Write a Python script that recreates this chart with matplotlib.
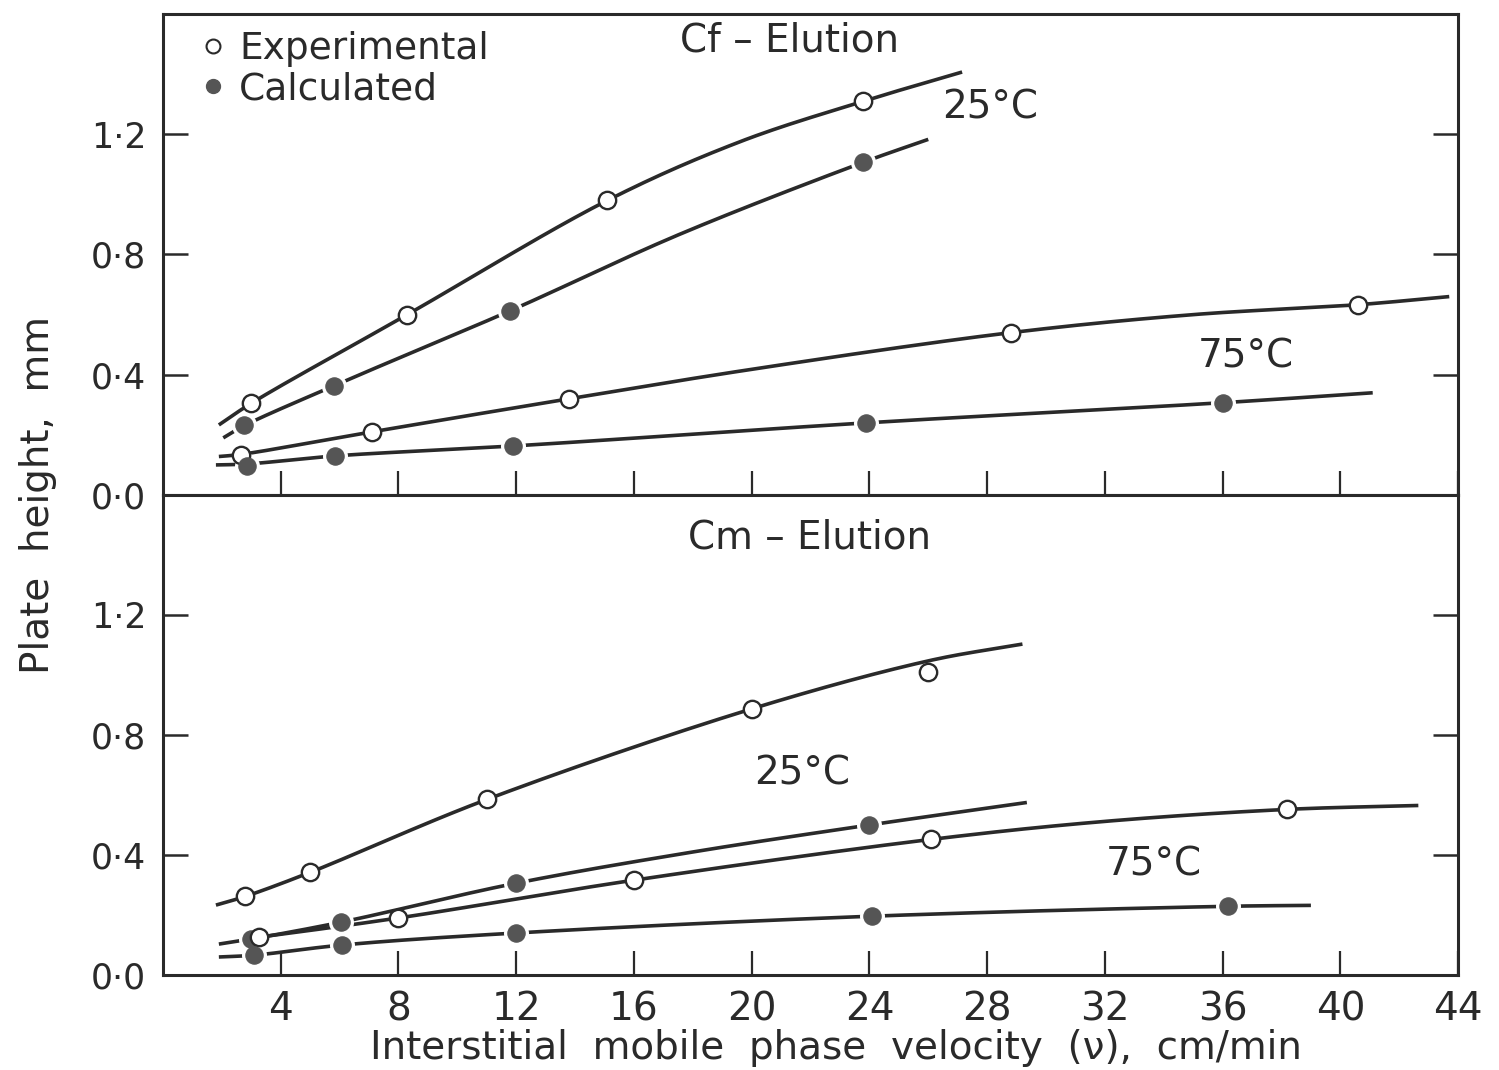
import numpy as np
import matplotlib
matplotlib.use("Agg")
import matplotlib.pyplot as plt
from matplotlib.lines import Line2D

plt.rcParams['font.family'] = ['DejaVu Sans']

# ---------------- Cf elution (upper panel) ----------------
# measured / calculated points
cf_exp25_x = [3.0, 8.3, 15.1, 23.8]
cf_exp25_y = [0.307, 0.60, 0.98, 1.31]
cf_calc25_x = [2.75, 5.8, 11.8, 23.8]
cf_calc25_y = [0.233, 0.363, 0.613, 1.107]
cf_exp75_x = [2.65, 7.1, 13.8, 28.8, 40.6]
cf_exp75_y = [0.133, 0.21, 0.32, 0.54, 0.633]
cf_calc75_x = [2.85, 5.85, 11.9, 23.9, 36.0]
cf_calc75_y = [0.097, 0.13, 0.163, 0.24, 0.307]

# hand-drawn trend curves (nodes along each curve)
cf_exp25_cx = [1.9, 3.0, 8.3, 15.1, 19.6, 23.8, 27.15]
cf_exp25_cy = [0.233, 0.305, 0.60, 0.98, 1.175, 1.31, 1.407]
cf_calc25_cx = [2.05, 2.75, 5.8, 11.8, 17.5, 23.8, 26.0]
cf_calc25_cy = [0.19, 0.23, 0.363, 0.613, 0.865, 1.107, 1.183]
cf_exp75_cx = [1.9, 2.65, 7.1, 13.8, 20.0, 28.8, 35.0, 40.6, 43.7]
cf_exp75_cy = [0.128, 0.135, 0.21, 0.32, 0.418, 0.54, 0.60, 0.633, 0.66]
cf_calc75_cx = [1.8, 2.85, 5.85, 11.9, 23.9, 36.0, 41.1]
cf_calc75_cy = [0.10, 0.103, 0.13, 0.163, 0.24, 0.307, 0.34]

# ---------------- Cm elution (lower panel) ----------------
cm_exp25_x = [2.8, 5.0, 11.0, 20.0, 26.0]
cm_exp25_y = [0.262, 0.342, 0.585, 0.887, 1.01]
cm_calc25_x = [3.0, 6.05, 12.0, 24.0]
cm_calc25_y = [0.12, 0.176, 0.306, 0.50]
cm_exp75_x = [3.25, 8.0, 16.0, 26.1, 38.2]
cm_exp75_y = [0.126, 0.19, 0.316, 0.452, 0.552]
cm_calc75_x = [3.1, 6.1, 12.0, 24.1, 36.2]
cm_calc75_y = [0.066, 0.10, 0.14, 0.196, 0.229]

cm_exp25_cx = [1.8, 2.8, 5.0, 11.0, 20.0, 26.0, 29.2]
cm_exp25_cy = [0.233, 0.262, 0.342, 0.585, 0.887, 1.047, 1.103]
cm_calc25_cx = [1.9, 3.0, 6.05, 12.0, 18.0, 24.0, 29.35]
cm_calc25_cy = [0.103, 0.12, 0.176, 0.306, 0.41, 0.50, 0.575]
cm_exp75_cx = [3.0, 3.25, 8.0, 16.0, 26.1, 32.0, 38.2, 42.65]
cm_exp75_cy = [0.123, 0.126, 0.19, 0.316, 0.452, 0.512, 0.552, 0.565]
cm_calc75_cx = [1.9, 3.1, 6.1, 12.0, 24.1, 36.2, 39.0]
cm_calc75_cy = [0.06, 0.066, 0.10, 0.14, 0.196, 0.229, 0.232]

x_ticks = [4, 8, 12, 16, 20, 24, 28, 32, 36, 40, 44]
y_ticks = [0.0, 0.4, 0.8, 1.2]
y_ticklabels = ['0·0', '0·4', '0·8', '1·2']

INK = '#2a2a2a'
DOT = '#555555'
FS = 27

fig = plt.figure(figsize=(14.99, 10.70), dpi=100)
ax_top = fig.add_axes([0.1087, 0.5374, 0.864, 0.4495])
ax_bot = fig.add_axes([0.1087, 0.0888, 0.864, 0.4486])


def smooth_stroke(xs, ys, n=24):
    """Centripetal Catmull-Rom stroke through the curve nodes (pen rendering)."""
    p = np.column_stack([xs, ys]).astype(float)
    p = np.vstack([2 * p[0] - p[1], p, 2 * p[-1] - p[-2]])
    out = []
    for i in range(1, len(p) - 2):
        p0, p1, p2, p3 = p[i - 1], p[i], p[i + 1], p[i + 2]
        t0 = 0.0
        t1 = t0 + np.linalg.norm(p1 - p0) ** 0.5
        t2 = t1 + np.linalg.norm(p2 - p1) ** 0.5
        t3 = t2 + np.linalg.norm(p3 - p2) ** 0.5
        t = np.linspace(t1, t2, n)[:, None]
        a1 = (t1 - t) / (t1 - t0) * p0 + (t - t0) / (t1 - t0) * p1
        a2 = (t2 - t) / (t2 - t1) * p1 + (t - t1) / (t2 - t1) * p2
        a3 = (t3 - t) / (t3 - t2) * p2 + (t - t2) / (t3 - t2) * p3
        b1 = (t2 - t) / (t2 - t0) * a1 + (t - t0) / (t2 - t0) * a2
        b2 = (t3 - t) / (t3 - t1) * a2 + (t - t1) / (t3 - t1) * a3
        c = (t2 - t) / (t2 - t1) * b1 + (t - t1) / (t2 - t1) * b2
        out.append(c if i == 1 else c[1:])
    c = np.vstack(out)
    return c[:, 0], c[:, 1]


def draw_series(ax, cx, cy, px, py, filled):
    sx, sy = smooth_stroke(cx, cy)
    ax.plot(sx, sy, color=INK, lw=2.6, solid_capstyle='butt', zorder=2)
    if filled:
        ax.plot(px, py, ls='none', marker='o', ms=18, mfc='white', mec='none', zorder=3)
        ax.plot(px, py, ls='none', marker='o', ms=12.5, mfc=DOT, mec=DOT, mew=0.8, zorder=4)
    else:
        ax.plot(px, py, ls='none', marker='o', ms=12.5, mfc='white', mec=INK, mew=1.7, zorder=4)


draw_series(ax_top, cf_exp25_cx, cf_exp25_cy, cf_exp25_x, cf_exp25_y, False)
draw_series(ax_top, cf_calc25_cx, cf_calc25_cy, cf_calc25_x, cf_calc25_y, True)
draw_series(ax_top, cf_exp75_cx, cf_exp75_cy, cf_exp75_x, cf_exp75_y, False)
draw_series(ax_top, cf_calc75_cx, cf_calc75_cy, cf_calc75_x, cf_calc75_y, True)

draw_series(ax_bot, cm_exp25_cx, cm_exp25_cy, cm_exp25_x, cm_exp25_y, False)
draw_series(ax_bot, cm_calc25_cx, cm_calc25_cy, cm_calc25_x, cm_calc25_y, True)
draw_series(ax_bot, cm_exp75_cx, cm_exp75_cy, cm_exp75_x, cm_exp75_y, False)
draw_series(ax_bot, cm_calc75_cx, cm_calc75_cy, cm_calc75_x, cm_calc75_y, True)

for ax in (ax_top, ax_bot):
    ax.set_xlim(0, 44)
    ax.set_ylim(0, 1.6)
    ax.set_xticks(x_ticks)
    ax.set_yticks(y_ticks)
    for s in ax.spines.values():
        s.set_linewidth(2.2)
        s.set_color(INK)
    ax.tick_params(axis='x', direction='in', length=17, width=1.6, color=INK,
                   labelsize=28, pad=11, labelcolor=INK)
    ax.tick_params(axis='y', direction='in', length=18, width=1.8, color=INK,
                   labelsize=25, pad=12, labelcolor=INK, right=True)

ax_top.set_yticklabels(y_ticklabels)
ax_bot.set_yticklabels(y_ticklabels)
ax_top.tick_params(axis='x', labelbottom=False)
ax_bot.set_xticklabels([str(v) for v in x_ticks])

# panel titles and temperature labels
ax_top.text(21.3, 1.513, 'Cf – Elution', fontsize=28, color=INK, ha='center', va='center')
ax_top.text(28.1, 1.29, '25°C', fontsize=28, color=INK, ha='center', va='center')
ax_top.text(36.8, 0.46, '75°C', fontsize=28, color=INK, ha='center', va='center')
ax_bot.text(21.95, 1.457, 'Cm – Elution', fontsize=28, color=INK, ha='center', va='center')
ax_bot.text(21.7, 0.673, '25°C', fontsize=28, color=INK, ha='center', va='center')
ax_bot.text(33.65, 0.367, '75°C', fontsize=28, color=INK, ha='center', va='center')

handles = [
    Line2D([], [], ls='none', marker='o', ms=10, mfc='white', mec=INK, mew=1.5),
    Line2D([], [], ls='none', marker='o', ms=10, mfc=DOT, mec=DOT),
]
ax_top.legend(handles, ['Experimental', 'Calculated'], loc='upper left',
              bbox_to_anchor=(0.008, 1.02), frameon=False, fontsize=FS,
              handlelength=0.7, handletextpad=0.35, labelspacing=0.12,
              labelcolor=INK, borderaxespad=0.3)

fig.text(38 / 1499, 1 - 495 / 1070, 'Plate  height,  mm', rotation=90,
         fontsize=28, color=INK, ha='center', va='center')
fig.text(836 / 1499, 1 - 1048 / 1070, 'Interstitial  mobile  phase  velocity  (ν),  cm/min',
         fontsize=28, color=INK, ha='center', va='center')

fig.savefig('out.png', dpi=100, facecolor='white')
